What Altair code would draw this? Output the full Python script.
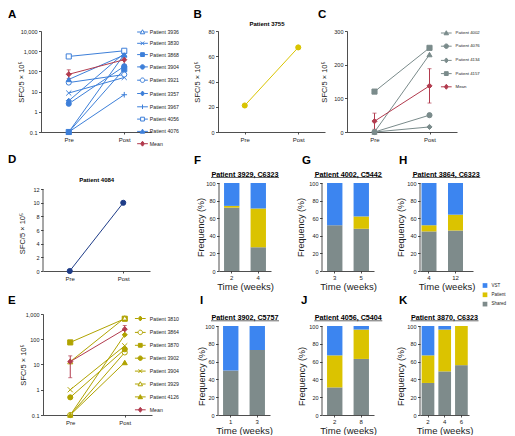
import altair as alt
import pandas as pd

FONT = "Liberation Sans"
INK = "#222222"
BLUE = "#3d7fd9"
RED = "#b23b4e"
YEL_B = "#d9c400"
GRAY_C = "#7a8b8b"
NAVY = "#1e3c88"
OLIVE = "#b0a300"
C_VST = "#3c85f0"
C_PAT = "#dbc300"
C_SH = "#7e8b8b"

TIMES = ["Pre", "Post"]
YTITLE = "SFC/5 × 10⁵"

# ---------------- data ----------------
A_SERIES = ["Patient 3936", "Patient 3830", "Patient 3868", "Patient 3904", "Patient 3921",
            "Patient 3357", "Patient 3967", "Patient 4056", "Patient 4076", "Mean"]
A_PRE = [0.1, 8.5, 0.1, 2.5, 28, 3.5, 0.1, 550, 40, 72]
A_POST = [700, 50, 130, 180, 70, 800, 7, 1050, 650, 380]
A_MEAN_LO = [45, 220]
A_MEAN_HI = [120, 560]

B_SERIES = ["Patient 3755"]
B_PRE = [21]
B_POST = [67]

C_SERIES = ["Patient 4002", "Patient 4076", "Patient 4134", "Patient 4157", "Mean"]
C_PRE = [0, 0, 0, 120, 32]
C_POST = [230, 50, 15, 250, 137]
C_MEAN_LO = [8, 86]
C_MEAN_HI = [56, 188]

D_SERIES = ["Patient 4084"]
D_PRE = [0]
D_POST = [10]

E_SERIES = ["Patient 3810", "Patient 3864", "Patient 3870", "Patient 3902", "Patient 3904",
            "Patient 3929", "Patient 4126", "Mean"]
E_PRE = [0.1, 0.1, 75, 0.5, 1, 13, 0.1, 13]
E_POST = [150, 30, 650, 40, 55, 700, 12, 250]
E_MEAN_LO = [3, 150]
E_MEAN_HI = [22, 350]

CATS = ["VST", "Patient", "Shared"]
F_WEEKS = ["2", "4"];  F_SHARED = [72, 27];  F_PATIENT = [2, 44];  F_VST = [26, 29]
G_WEEKS = ["3", "5"];  G_SHARED = [52, 48];  G_PATIENT = [0, 14];  G_VST = [48, 38]
H_WEEKS = ["4", "12"]; H_SHARED = [45, 46];  H_PATIENT = [7, 18];  H_VST = [48, 36]
I_WEEKS = ["1", "3"];  I_SHARED = [50, 73];  I_PATIENT = [0, 0];   I_VST = [50, 27]
J_WEEKS = ["2", "8"];  J_SHARED = [31, 63];  J_PATIENT = [36, 33]; J_VST = [33, 4]
K_WEEKS = ["2", "4", "6"]; K_SHARED = [36, 49, 56]; K_PATIENT = [31, 47, 44]; K_VST = [33, 4, 0]

# ---------------- styles ----------------
XPATH = "M-1,-1L1,1M-1,1L1,-1"
PLUS = "M-1.1,0L1.1,0M0,-1.1L0,1.1"

# legend symbols: marker with a short line through it
L_TRI = "M-2.4,0L-0.56,0M0.56,0L2.4,0M0,-1L1,0.8L-1,0.8Z"
L_SQ = "M-2.4,0L-0.85,0M0.85,0L2.4,0M-0.85,-0.85L0.85,-0.85L0.85,0.85L-0.85,0.85Z"
L_CIR = "M-2.4,0L-1,0M1,0L2.4,0M-1,0A1,1,0,1,1,1,0A1,1,0,1,1,-1,0Z"
L_DIA = "M-2.4,0L-0.9,0M0.9,0L2.4,0M0,-1.1L0.9,0L0,1.1L-0.9,0Z"
L_X = "M-2.4,0L2.4,0M-0.8,-0.8L0.8,0.8M-0.8,0.8L0.8,-0.8"
L_PLUS = "M-2.4,0L2.4,0M0,-1L0,1"

A_SHAPES = ["triangle-up", XPATH, "square", "circle", "circle", "diamond", PLUS, "square", "triangle-up", "diamond"]
A_LSHAPES = [L_TRI, L_X, L_SQ, L_CIR, L_CIR, L_DIA, L_PLUS, L_SQ, L_TRI, L_DIA]
A_FILLS = ["white", BLUE, BLUE, BLUE, "white", BLUE, BLUE, "white", BLUE, RED]
A_STROKES = [BLUE] * 9 + [RED]
C_SHAPES = ["triangle-up", "circle", "diamond", "square", "diamond"]
C_LSHAPES = [L_TRI, L_CIR, L_DIA, L_SQ, L_DIA]
C_FILLS = [GRAY_C] * 4 + [RED]
C_STROKES = [GRAY_C] * 4 + [RED]
E_SHAPES = ["diamond", "circle", "square", "circle", XPATH, "triangle-up", "triangle-up", "diamond"]
E_LSHAPES = [L_DIA, L_CIR, L_SQ, L_CIR, L_X, L_TRI, L_TRI, L_DIA]
E_FILLS = [OLIVE, "white", OLIVE, OLIVE, OLIVE, "white", OLIVE, RED]
E_STROKES = [OLIVE] * 7 + [RED]

LOG_LABELS = "datum.value < 1 ? '0.1' : format(datum.value, ',')"

INDEP = dict(color="independent", shape="independent", fill="independent",
             stroke="independent", x="independent", y="independent")
INDEP_LEG = dict(color="independent", shape="independent", fill="independent",
                 stroke="independent")


def text_layer(txt, x, y, size, align="left", bold=True):
    return alt.Chart(pd.DataFrame({"t": [txt]})).mark_text(
        font=FONT, fontSize=size, fontWeight="bold" if bold else "normal",
        align=align, baseline="middle", color="#000000").encode(
        x=alt.value(x), y=alt.value(y), text="t:N")


def underline_layer(x1, x2, y):
    return alt.Chart(pd.DataFrame({"t": [0]})).mark_rule(color="#000000", strokeWidth=0.6).encode(
        x=alt.value(x1), x2=alt.value(x2), y=alt.value(y))


def spacer(w, h=1):
    return alt.Chart(pd.DataFrame({"s": [0]})).mark_point(opacity=0).encode(
        x=alt.value(0), y=alt.value(0)).properties(width=w, height=h)


def sfc_panel(series, pre, post, shapes, fills, strokes, ydomain, yvals, w, h,
              letter, lxy, ytx, log=False, title=None, txy=None, legend=None, lshapes=None,
              mean_lo=None, mean_hi=None, rule_top=None, ytitle_y=None):
    rows = []
    for s, a, b in zip(series, pre, post):
        rows.append({"series": s, "time": "Pre", "value": a})
        rows.append({"series": s, "time": "Post", "value": b})
    df = pd.DataFrame(rows)

    sk = dict(domain=ydomain, nice=False)
    if log:
        sk["type"] = "log"
    ysc = alt.Scale(**sk)
    ak = dict(title=YTITLE, values=yvals, titleFontSize=7.5, titleX=ytx,
              titleY=ytitle_y if ytitle_y is not None else h / 2,
              titleBaseline="middle", titleAlign="center", labelFontSize=5.5)
    if log:
        ak["labelExpr"] = LOG_LABELS
    if rule_top is not None:
        ak["domain"] = False
    yax = alt.Axis(**ak)
    x = alt.X("time:N", sort=TIMES,
              scale=alt.Scale(type="point", domain=TIMES, padding=0.5),
              axis=alt.Axis(title=None, labelAngle=0, labelFontSize=6, tickSize=2, labelPadding=2))

    layers = []
    if rule_top is not None:
        rdf = pd.DataFrame({"lo": [ydomain[0]], "hi": [rule_top]})
        layers.append(alt.Chart(rdf).mark_rule(color=INK, strokeWidth=0.8).encode(
            x=alt.value(0), y=alt.Y("lo:Q", scale=ysc, axis=yax), y2="hi:Q"))
    layers.append(alt.Chart(df).mark_line(strokeWidth=1).encode(
        x=x, y=alt.Y("value:Q", scale=ysc, axis=yax),
        color=alt.Color("series:N", scale=alt.Scale(domain=series[::-1], range=strokes[::-1]),
                        legend=None)))
    if mean_lo is not None:
        edf = pd.DataFrame({"time": TIMES, "lo": mean_lo, "hi": mean_hi})
        layers.append(alt.Chart(edf).mark_rule(color=RED, strokeWidth=1).encode(
            x=x, y=alt.Y("lo:Q", scale=ysc, axis=yax), y2="hi:Q"))
        for f in ["lo", "hi"]:
            layers.append(alt.Chart(edf).mark_tick(color=RED, size=4, thickness=1).encode(
                x=x, y=alt.Y(f + ":Q", scale=ysc, axis=yax)))
    layers.append(alt.Chart(df).mark_point(size=26, opacity=1, strokeWidth=1, filled=True).encode(
        x=x, y=alt.Y("value:Q", scale=ysc, axis=yax),
        shape=alt.Shape("series:N", scale=alt.Scale(domain=series, range=shapes), legend=None),
        fill=alt.Fill("series:N", scale=alt.Scale(domain=series, range=fills), legend=None),
        stroke=alt.Stroke("series:N", scale=alt.Scale(domain=series, range=strokes), legend=None)))
    if legend is not None:
        leg = alt.Legend(title=None, orient="none", legendX=legend[0], legendY=legend[1],
                         labelFontSize=legend[2], labelFont=FONT, labelColor=INK,
                         symbolSize=20, symbolStrokeWidth=1, rowPadding=legend[3],
                         padding=0, labelOffset=legend[4], labelLimit=200)
        empty = pd.DataFrame({"series": pd.Series([], dtype=str),
                              "time": pd.Series([], dtype=str),
                              "value": pd.Series([], dtype=float)})
        layers.append(alt.Chart(empty).mark_point(opacity=1, strokeWidth=1, filled=True).encode(
            x=x, y=alt.Y("value:Q", scale=ysc, axis=yax),
            shape=alt.Shape("series:N", scale=alt.Scale(domain=series, range=lshapes), legend=leg),
            fill=alt.Fill("series:N", scale=alt.Scale(domain=series, range=fills), legend=leg),
            stroke=alt.Stroke("series:N", scale=alt.Scale(domain=series, range=strokes), legend=leg)))
    layers.append(text_layer(letter, lxy[0], lxy[1], 11.5))
    if title is not None:
        layers.append(text_layer(title, txy[0], txy[1], 6, align="center"))
    out = alt.layer(*layers).properties(width=w, height=h)
    if legend is not None:
        out = out.resolve_scale(shape="independent", fill="independent", stroke="independent")
    return out


def bar_panel(weeks, shared, patient, vst, w, h, ymax, pin, pout, align,
              letter, lxy, title, txy, ytx, yty, legend=None):
    rows = []
    for wk, s, p, v in zip(weeks, shared, patient, vst):
        rows.append({"week": wk, "cat": "Shared", "value": s, "ord": 0})
        rows.append({"week": wk, "cat": "Patient", "value": p, "ord": 1})
        rows.append({"week": wk, "cat": "VST", "value": v, "ord": 2})
    df = pd.DataFrame(rows)
    ysc = alt.Scale(domain=[0, ymax], nice=False)
    yax = alt.Axis(title="Frequency (%)", values=[0, 20, 40, 60, 80, 100], domain=False,
                   titleFontSize=9, titleX=ytx, titleY=yty, titleBaseline="middle",
                   titleAlign="center", labelFontSize=5.5)
    x = alt.X("week:N", sort=weeks,
              scale=alt.Scale(paddingInner=pin, paddingOuter=pout, align=align),
              axis=alt.Axis(title="Time (weeks)", labelAngle=0, labelFontSize=6, tickSize=2,
                            titleFontSize=9.5, titleX=w / 2, titleY=15, titleBaseline="middle",
                            titleAlign="center"))
    if legend is not None:
        leg = alt.Legend(title=None, orient="none", legendX=legend[0], legendY=legend[1],
                         symbolType="square", symbolSize=22, symbolStrokeWidth=0,
                         labelFontSize=4.5, labelFont=FONT, labelColor=INK,
                         rowPadding=3.3, padding=0, labelOffset=4)
    else:
        leg = None
    rdf = pd.DataFrame({"lo": [0], "hi": [100]})
    axis_rule = alt.Chart(rdf).mark_rule(color=INK, strokeWidth=0.8).encode(
        x=alt.value(0), y=alt.Y("lo:Q", scale=ysc, axis=yax), y2="hi:Q")
    bars = alt.Chart(df).mark_bar().encode(
        x=x,
        y=alt.Y("value:Q", stack="zero", scale=ysc, axis=yax),
        color=alt.Color("cat:N", scale=alt.Scale(domain=CATS, range=[C_VST, C_PAT, C_SH]), legend=leg),
        order=alt.Order("ord:Q", sort="ascending"))
    cx = txy[0]
    return alt.layer(
        bars, axis_rule,
        text_layer(letter, lxy[0], lxy[1], 11.5),
        text_layer(title, cx, txy[1], 7.2, align="center"),
        underline_layer(cx - 34, cx + 34, txy[1] + 2.8),
    ).properties(width=w, height=h)


# ---------------- panels ----------------
A = sfc_panel(A_SERIES, A_PRE, A_POST, A_SHAPES, A_FILLS, A_STROKES,
              [0.1, 10000], [0.1, 1, 10, 100, 1000, 10000], 111, 101,
              "A", (-33, -16.5), -19.5, log=True, legend=(98.5, -2, 5.2, 3.3, 4.3),
              lshapes=A_LSHAPES, mean_lo=A_MEAN_LO, mean_hi=A_MEAN_HI)
B = sfc_panel(B_SERIES, B_PRE, B_POST, ["circle"], [YEL_B], [YEL_B],
              [0, 80], [0, 20, 40, 60, 80], 107, 101,
              "B", (-24.5, -16.5), -20.5, title="Patient 3755", txy=(49, -7.5))
C = sfc_panel(C_SERIES, C_PRE, C_POST, C_SHAPES, C_FILLS, C_STROKES,
              [0, 300], [0, 100, 200, 300], 110, 101,
              "C", (-29, -16.5), -22.5, legend=(96.3, -1, 4.3, 4.2, 6.3),
              lshapes=C_LSHAPES, mean_lo=C_MEAN_LO, mean_hi=C_MEAN_HI)
D = sfc_panel(D_SERIES, D_PRE, D_POST, ["circle"], [NAVY], [NAVY],
              [0, 12.9], [0, 2, 4, 6, 8, 10, 12], 107, 88,
              "D", (-35, -23), -21, title="Patient 4084", txy=(53.7, -2.7),
              rule_top=12, ytitle_y=50)
E = sfc_panel(E_SERIES, E_PRE, E_POST, E_SHAPES, E_FILLS, E_STROKES,
              [0.1, 1000], [0.1, 1, 10, 100, 1000], 109, 101,
              "E", (-35, -13), -20, log=True, legend=(94.3, 1.5, 5.2, 3.9, 6.5),
              lshapes=E_LSHAPES, mean_lo=E_MEAN_LO, mean_hi=E_MEAN_HI)

F = bar_panel(F_WEEKS, F_SHARED, F_PATIENT, F_VST, 52, 88, 100, 0.42, 0.19, 0.5,
              "F", (-25, -22), "Patient 3929, C6323", (26, -8.3), -19, 44)
G = bar_panel(G_WEEKS, G_SHARED, G_PATIENT, G_VST, 52, 88, 100, 0.42, 0.19, 0.5,
              "G", (-20, -22), "Patient 4002, C5442", (26.3, -8.3), -22, 44)
H = bar_panel(H_WEEKS, H_SHARED, H_PATIENT, H_VST, 53, 88, 100, 0.434, 0.217, 0.13,
              "H", (-21, -22), "Patient 3864, C6323", (26.3, -8.3), -20, 44)
R3MAX = 100 * 101 / 89
I = bar_panel(I_WEEKS, I_SHARED, I_PATIENT, I_VST, 52, 101, R3MAX, 0.42, 0.19, 0.5,
              "I", (-18, -13), "Patient 3902, C5757", (27, 4), -16.5, 62)
J = bar_panel(J_WEEKS, J_SHARED, J_PATIENT, J_VST, 52, 101, R3MAX, 0.42, 0.19, 0.5,
              "J", (-21, -13), "Patient 4056, C5404", (26.3, 4), -20.5, 62)
K = bar_panel(K_WEEKS, K_SHARED, K_PATIENT, K_VST, 49, 101, R3MAX, 0.24, 0.087, 0.57,
              "K", (-21, -13), "Patient 3870, C6323", (24.5, 4), -20, 62,
              legend=(62.5, -31))

row1 = alt.hconcat(A, spacer(66), B, spacer(22), C, spacing=0, bounds="flush"
                   ).resolve_scale(**INDEP).resolve_legend(**INDEP_LEG)
row2 = alt.hconcat(spacer(2), D, spacer(69), F, spacer(51), G, spacer(46), H,
                   spacing=0, bounds="flush"
                   ).resolve_scale(**INDEP).resolve_legend(**INDEP_LEG)
row3 = alt.hconcat(spacer(2), E, spacer(66), I, spacer(52), J, spacer(46), K,
                   spacing=0, bounds="flush"
                   ).resolve_scale(**INDEP).resolve_legend(**INDEP_LEG)

chart = alt.vconcat(row1, spacer(1, 152), row2, spacer(1, 131), row3,
                    spacing=0, bounds="flush", padding=0, background="white"
                    ).resolve_scale(**INDEP).resolve_legend(**INDEP_LEG)

chart = chart.configure(font=FONT).configure_view(stroke=None).configure_axis(
    domainColor=INK, domainWidth=0.8, tickColor=INK, tickWidth=0.8, tickSize=2.5,
    labelColor=INK, labelFont=FONT, labelPadding=1.5, titleColor=INK, titleFont=FONT,
    titleFontWeight="normal", grid=False
).configure_legend(labelFont=FONT)

chart.save("out.html", embed_options={"renderer": "svg", "actions": False})
